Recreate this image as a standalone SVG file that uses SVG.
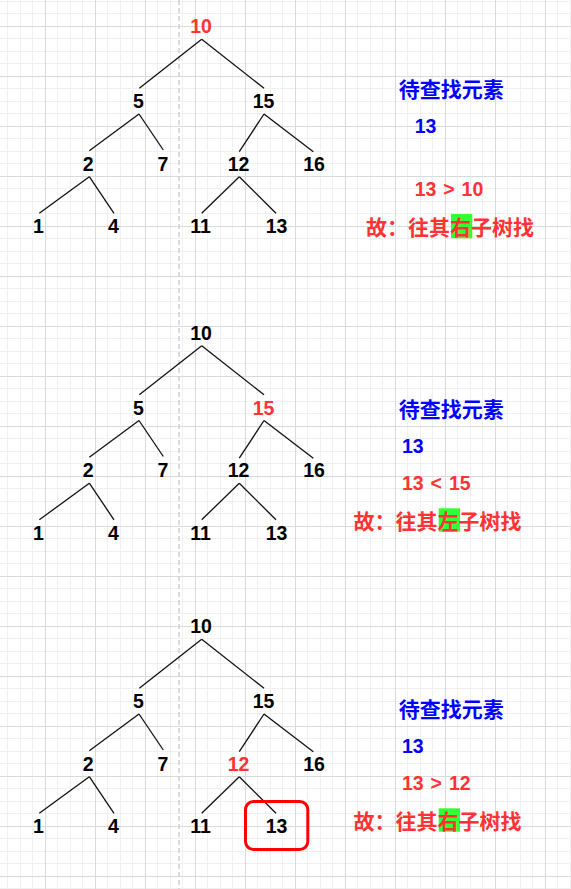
<svg xmlns="http://www.w3.org/2000/svg" width="571" height="889" viewBox="0 0 571 889">
<defs>
<pattern id="grid" patternUnits="userSpaceOnUse" x="45" y="26" width="50" height="50">
<rect x="12" y="0" width="1" height="50" fill="#f0f0f0"/>
<rect x="25" y="0" width="1" height="50" fill="#f0f0f0"/>
<rect x="37" y="0" width="1" height="50" fill="#f0f0f0"/>
<rect x="0" y="12" width="50" height="1" fill="#f0f0f0"/>
<rect x="0" y="25" width="50" height="1" fill="#f0f0f0"/>
<rect x="0" y="37" width="50" height="1" fill="#f0f0f0"/>
<rect x="0" y="0" width="1" height="50" fill="#dadada"/>
<rect x="0" y="0" width="50" height="1" fill="#dadada"/>
</pattern>
<style>
.n{font-family:"Liberation Sans",Arial,sans-serif;font-weight:bold;font-size:19.5px;text-anchor:middle;fill:#000}
.r{fill:#ff3333}
.b{fill:#0000ff}
.t{font-family:"Liberation Sans",Arial,sans-serif;font-weight:bold;font-size:19.5px}
.c{font-family:"Noto Sans CJK SC","Liberation Sans",sans-serif;font-weight:bold;font-size:21px}
.e{stroke:#111;stroke-width:1.3;fill:none}
.hl{fill:#33ff33}
</style>
</defs>
<rect width="571" height="889" fill="#fff"/>
<rect width="571" height="889" fill="url(#grid)"/>
<line x1="179" y1="0" x2="179" y2="889" stroke="#cfcfcf" stroke-width="1.5" stroke-dasharray="5 3"/>

<!-- Tree 1 -->
<g id="tree1">
<g id="t1-connectors" class="e">
<line x1="201.7" y1="39.3" x2="139.3" y2="88.3"/>
<line x1="201.7" y1="39.3" x2="264" y2="88.3"/>
<line x1="139" y1="114" x2="89.3" y2="150.7"/>
<line x1="139" y1="114" x2="163.3" y2="150"/>
<line x1="264" y1="114" x2="239.3" y2="151.7"/>
<line x1="264" y1="114" x2="313.3" y2="151.7"/>
<line x1="89.3" y1="176.7" x2="39.3" y2="213.3"/>
<line x1="89.3" y1="176.7" x2="114" y2="213.3"/>
<line x1="239.3" y1="176.7" x2="201.7" y2="213.3"/>
<line x1="239.3" y1="176.7" x2="276" y2="213.3"/>
</g>
<g id="t1-n10"><text class="n r" x="201" y="33.3">10</text></g>
<g id="t1-n5"><text class="n" x="138.5" y="108">5</text></g>
<g id="t1-n15"><text class="n" x="263.5" y="108">15</text></g>
<g id="t1-n2"><text class="n" x="88.3" y="170.5">2</text></g>
<g id="t1-n7"><text class="n" x="163" y="170.5">7</text></g>
<g id="t1-n12"><text class="n" x="238.5" y="170.5">12</text></g>
<g id="t1-n16"><text class="n" x="314" y="170.5">16</text></g>
<g id="t1-n1"><text class="n" x="38.5" y="233.3">1</text></g>
<g id="t1-n4"><text class="n" x="113.5" y="233.3">4</text></g>
<g id="t1-n11"><text class="n" x="200.5" y="233.3">11</text></g>
<g id="t1-n13"><text class="n" x="276.5" y="233.3">13</text></g>
</g>
<g id="note1">
<text class="c b" x="451.3" y="96.5" text-anchor="middle">待查找元素</text>
<text class="t b" x="414.7" y="133.3">13</text>
<text class="t r" x="414.7" y="196" word-spacing="1.5">13 &gt; 10</text>
<rect class="hl" x="451" y="214" width="21.3" height="24.3"/>
<text class="c r" x="366" y="235.2">故：往其右子树找</text>
</g>

<!-- Tree 2 -->
<g id="tree2" transform="translate(0,306.5)">
<g id="t2-connectors" class="e">
<line x1="201.7" y1="39.3" x2="139.3" y2="88.3"/>
<line x1="201.7" y1="39.3" x2="264" y2="88.3"/>
<line x1="139" y1="114" x2="89.3" y2="150.7"/>
<line x1="139" y1="114" x2="163.3" y2="150"/>
<line x1="264" y1="114" x2="239.3" y2="151.7"/>
<line x1="264" y1="114" x2="313.3" y2="151.7"/>
<line x1="89.3" y1="176.7" x2="39.3" y2="213.3"/>
<line x1="89.3" y1="176.7" x2="114" y2="213.3"/>
<line x1="239.3" y1="176.7" x2="201.7" y2="213.3"/>
<line x1="239.3" y1="176.7" x2="276" y2="213.3"/>
</g>
<g id="t2-n10"><text class="n" x="201" y="33.3">10</text></g>
<g id="t2-n5"><text class="n" x="138.5" y="108">5</text></g>
<g id="t2-n15"><text class="n r" x="263.5" y="108">15</text></g>
<g id="t2-n2"><text class="n" x="88.3" y="170.5">2</text></g>
<g id="t2-n7"><text class="n" x="163" y="170.5">7</text></g>
<g id="t2-n12"><text class="n" x="238.5" y="170.5">12</text></g>
<g id="t2-n16"><text class="n" x="314" y="170.5">16</text></g>
<g id="t2-n1"><text class="n" x="38.5" y="233.3">1</text></g>
<g id="t2-n4"><text class="n" x="113.5" y="233.3">4</text></g>
<g id="t2-n11"><text class="n" x="200.5" y="233.3">11</text></g>
<g id="t2-n13"><text class="n" x="276.5" y="233.3">13</text></g>
</g>
<g id="note2">
<text class="c b" x="451.3" y="416.8" text-anchor="middle">待查找元素</text>
<text class="t b" x="402" y="452.7">13</text>
<text class="t r" x="402" y="490" word-spacing="1.5">13 &lt; 15</text>
<rect class="hl" x="438.7" y="508.3" width="21.3" height="23.4"/>
<text class="c r" x="353.5" y="528.5">故：往其左子树找</text>
</g>

<!-- Tree 3 -->
<g id="tree3" transform="translate(0,600)">
<g id="t3-connectors" class="e">
<line x1="201.7" y1="39.3" x2="139.3" y2="88.3"/>
<line x1="201.7" y1="39.3" x2="264" y2="88.3"/>
<line x1="139" y1="114" x2="89.3" y2="150.7"/>
<line x1="139" y1="114" x2="163.3" y2="150"/>
<line x1="264" y1="114" x2="239.3" y2="151.7"/>
<line x1="264" y1="114" x2="313.3" y2="151.7"/>
<line x1="89.3" y1="176.7" x2="39.3" y2="213.3"/>
<line x1="89.3" y1="176.7" x2="114" y2="213.3"/>
<line x1="239.3" y1="176.7" x2="201.7" y2="213.3"/>
<line x1="239.3" y1="176.7" x2="276" y2="213.3"/>
</g>
<g id="t3-n10"><text class="n" x="201" y="33.3">10</text></g>
<g id="t3-n5"><text class="n" x="138.5" y="108">5</text></g>
<g id="t3-n15"><text class="n" x="263.5" y="108">15</text></g>
<g id="t3-n2"><text class="n" x="88.3" y="170.5">2</text></g>
<g id="t3-n7"><text class="n" x="163" y="170.5">7</text></g>
<g id="t3-n12"><text class="n r" x="238.5" y="170.5">12</text></g>
<g id="t3-n16"><text class="n" x="314" y="170.5">16</text></g>
<g id="t3-n1"><text class="n" x="38.5" y="233.3">1</text></g>
<g id="t3-n4"><text class="n" x="113.5" y="233.3">4</text></g>
<g id="t3-n11"><text class="n" x="200.5" y="233.3">11</text></g>
<g id="t3-n13"><text class="n" x="276.5" y="233.3">13</text>
<rect x="245.5" y="201.5" width="62.3" height="48" rx="8" ry="8" fill="none" stroke="#ff0000" stroke-width="3"/></g>
</g>
<g id="note3">
<text class="c b" x="451.3" y="716.8" text-anchor="middle">待查找元素</text>
<text class="t b" x="402" y="752.7">13</text>
<text class="t r" x="402" y="790" word-spacing="1.5">13 &gt; 12</text>
<rect class="hl" x="438.7" y="808.3" width="21.3" height="23.4"/>
<text class="c r" x="353.5" y="828.5">故：往其右子树找</text>
</g>
</svg>
